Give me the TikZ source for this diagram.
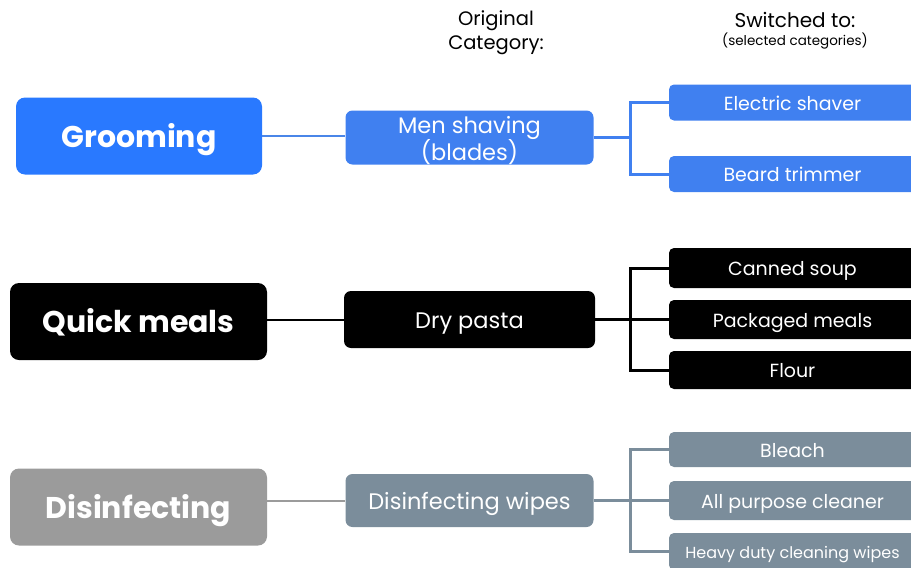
\documentclass[tikz,border=0pt]{standalone}
\usepackage{fontspec}
\setmainfont{Poppins}
\definecolor{groomblue}{HTML}{2979FF}
\definecolor{shaveblue}{HTML}{4080F0}
\definecolor{lineblue}{HTML}{4A86E8}
\definecolor{disgray}{HTML}{9B9B9B}
\definecolor{wipegray}{HTML}{7B8D9B}
\begin{document}
\begin{tikzpicture}[x=1pt,y=-1pt,
    catbox/.style={rounded corners=9pt, minimum width=250pt, minimum height=77pt,
        text=white, text height=22pt, text depth=0pt, font=\fontsize{30}{32}\selectfont\bfseries},
    origbox/.style={rounded corners=7pt, minimum width=248pt, minimum height=54pt,
        text=white, text height=18pt, text depth=0pt, font=\fontsize{22.5}{23}\selectfont},
    subbox/.style={rounded corners=5pt, minimum width=247pt, minimum height=37pt,
        text=white, text height=15pt, text depth=0pt, font=\fontsize{19}{21}\selectfont},
    link/.style={line width=2pt},
    branch/.style={line width=3pt}]
        \clip (0,0) rectangle (911,568);
        % Headers
        \node[align=center, font=\fontsize{19.5}{24}\selectfont] (orighead) at (496,33) {Original\\Category:};
        \node[font=\fontsize{20}{22}\selectfont] (switchhead) at (795,20) {Switched to:};
        \node[font=\fontsize{13.5}{15}\selectfont] (selhead) at (795,41) {(selected categories)};

        % Grooming
        \node[catbox, fill=groomblue, minimum width=246pt] (grooming) at (139,136) {Grooming};
        \node[origbox, fill=shaveblue, text height=0pt] (shaving) at (469.5,137.5)
            {\raisebox{-10pt}[0pt][0pt]{\begin{tabular}{@{}c@{}}Men shaving\\[-1pt](blades)\end{tabular}}};
        \node[subbox, fill=shaveblue, minimum height=36pt] (electric) at (792.5,102.5) {Electric shaver};
        \node[subbox, fill=shaveblue, minimum height=36pt] (trimmer) at (792.5,174) {Beard trimmer};
        \coordinate (j1) at (630,137.5);
        \draw[link, lineblue] (grooming.east) -- (shaving.west |- grooming.east);
        \draw[branch, shaveblue] (shaving.east) -- (j1);
        \draw[branch, shaveblue] (electric.west) -| (j1);
        \draw[branch, shaveblue] (trimmer.west) -| (j1);

        % Quick meals
        \node[catbox, fill=black, minimum width=257pt] (quick) at (138.5,321.5) {Quick meals};
        \node[origbox, fill=black, minimum width=251pt, minimum height=57pt] (pasta) at (469.5,319.5) {Dry pasta};
        \node[subbox, fill=black, minimum height=40pt] (soup) at (792.5,268) {Canned soup};
        \node[subbox, fill=black, minimum height=39pt] (packaged) at (792.5,319.5) {Packaged meals};
        \node[subbox, fill=black, minimum height=38pt] (flour) at (792.5,370) {Flour};
        \coordinate (j2) at (630,319.5);
        \draw[link, black] (quick.east |- pasta.west) -- (pasta.west);
        \draw[branch, black] (pasta.east) -- (j2);
        \draw[branch, black] (soup.west) -| (j2);
        \draw[branch, black] (packaged.west) -- (j2);
        \draw[branch, black] (flour.west) -| (j2);

        % Disinfecting
        \node[catbox, fill=disgray, minimum width=257pt] (disinfect) at (138.5,507) {Disinfecting};
        \node[origbox, fill=wipegray, minimum height=53pt] (wipes) at (469.5,500.5) {Disinfecting wipes};
        \node[subbox, fill=wipegray, minimum height=35pt] (bleach) at (792.5,449.5) {Bleach};
        \node[subbox, fill=wipegray, minimum height=39pt] (cleaner) at (792.5,500.5) {All purpose cleaner};
        \node[subbox, fill=wipegray, minimum height=37pt, text height=13pt, font=\fontsize{16}{18}\selectfont] (heavy) at (792.5,551.5) {Heavy duty cleaning wipes};
        \coordinate (j3) at (630,500.5);
        \draw[link, disgray] (disinfect.east |- wipes.west) -- (wipes.west);
        \draw[branch, wipegray] (wipes.east) -- (j3);
        \draw[branch, wipegray] (bleach.west) -| (j3);
        \draw[branch, wipegray] (cleaner.west) -- (j3);
        \draw[branch, wipegray] (heavy.west) -| (j3);

    \end{tikzpicture}
\end{document}
